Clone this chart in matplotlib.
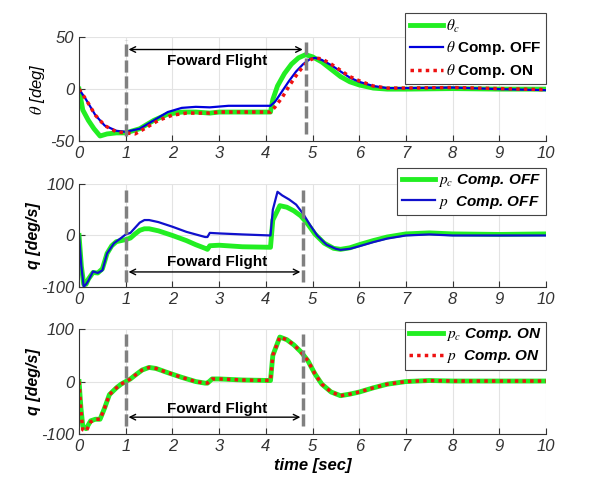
import numpy as np
import matplotlib.pyplot as plt

plt.rcParams['font.family'] = ['Liberation Sans', 'DejaVu Sans']
plt.rcParams['mathtext.fontset'] = 'stix'
plt.rcParams['axes.unicode_minus'] = False

# panel 1: pitch angle [deg]
t1_c = [0, 0.08, 0.2, 0.32, 0.45, 0.6, 0.8, 1.0, 1.3, 1.6, 1.9, 2.2, 2.5, 2.8, 3.0, 4.1, 4.15, 4.25, 4.4, 4.55, 4.7, 4.85, 5.0, 5.2, 5.4, 5.6, 5.8, 6.0, 6.3, 6.6, 7, 8, 9, 10]
th_c = [0, -20, -30, -38, -45, -43, -42, -42, -38, -30, -24, -22, -22, -23, -22, -22, -10, 3, 15, 24, 30, 33, 31, 26, 19, 12, 7, 4, 1, 0, 0, 0.5, 0, 0]
t1_off = [0, 0.15, 0.35, 0.55, 0.8, 1.0, 1.3, 1.6, 1.9, 2.2, 2.5, 2.8, 3.2, 4.1, 4.2, 4.35, 4.5, 4.65, 4.8, 4.95, 5.05, 5.2, 5.4, 5.6, 5.8, 6.0, 6.3, 6.6, 7, 8, 9, 10]
th_off = [0, -10, -25, -35, -40, -41, -38, -30, -22, -18, -17, -17.5, -16, -16, -12, -2, 8, 17, 24, 29, 30, 28, 23, 17, 11, 7, 3, 1, 1, 1.5, 0, -1]
t1_on = [0, 0.15, 0.35, 0.55, 0.8, 1.0, 1.2, 1.4, 1.7, 2.0, 2.3, 2.8, 3.0, 4.1, 4.2, 4.35, 4.5, 4.65, 4.8, 4.95, 5.05, 5.2, 5.4, 5.6, 5.8, 6.0, 6.3, 6.6, 7, 8, 9, 10]
th_on = [0, -10, -25, -35, -41, -42, -43, -38, -30, -25, -23, -23, -22, -22, -17, -8, 3, 13, 22, 28, 30, 29, 24, 18, 12, 8, 3, 1, 1, 1.5, 0.5, -0.5]

# panel 2: pitch rate, compensation off
t2_c = [0, 0.05, 0.1, 0.15, 0.2, 0.3, 0.4, 0.5, 0.6, 0.7, 0.8, 1.0, 1.1, 1.2, 1.3, 1.4, 1.5, 1.7, 2.0, 2.3, 2.5, 2.7, 2.75, 2.8, 3.0, 3.5, 4.1, 4.15, 4.3, 4.45, 4.6, 4.75, 4.9, 5.05, 5.25, 5.45, 5.6, 5.8, 6.0, 6.3, 6.6, 7.0, 7.5, 8, 9, 10]
pc_off = [0, -60, -95, -95, -85, -72, -73, -65, -35, -20, -12, -8, -5, 3, 10, 13, 13, 9, 0, -10, -18, -25, -27, -20, -19, -22, -23, 30, 58, 55, 48, 38, 22, 3, -15, -25, -27, -24, -18, -10, -3, 3, 5, 3, 2, 3]
t2_p = [0, 0.05, 0.1, 0.15, 0.2, 0.3, 0.4, 0.5, 0.6, 0.75, 0.9, 1.0, 1.1, 1.2, 1.3, 1.4, 1.5, 1.7, 2.0, 2.3, 2.5, 2.7, 2.75, 2.8, 3.0, 3.5, 4.1, 4.15, 4.25, 4.35, 4.5, 4.65, 4.8, 4.95, 5.1, 5.3, 5.5, 5.6, 5.8, 6.0, 6.3, 6.6, 7.0, 7.5, 8, 9, 10]
p_off = [0, -60, -100, -95, -88, -70, -73, -68, -35, -15, -5, 2, 5, 15, 25, 30, 30, 26, 17, 7, 2, -3, -3, 5, 4, 2, 0, 50, 85, 78, 70, 60, 42, 20, 0, -18, -26, -28, -26, -21, -13, -6, 0, 2, 0, 0, 0]

# panel 3: pitch rate, compensation on
t3 = [0, 0.04, 0.08, 0.15, 0.25, 0.35, 0.45, 0.55, 0.65, 0.8, 0.9, 1.0, 1.1, 1.2, 1.35, 1.5, 1.65, 1.9, 2.2, 2.5, 2.7, 2.75, 2.85, 3.0, 3.5, 4.1, 4.15, 4.3, 4.45, 4.6, 4.75, 4.9, 5.05, 5.2, 5.4, 5.6, 5.8, 6.0, 6.3, 6.6, 7.0, 7.5, 8, 9, 10]
pc_on = [0, -50, -85, -90, -75, -72, -72, -50, -25, -12, -5, 0, 5, 12, 22, 27, 25, 17, 8, 0, -3, -3, 5, 5, 3, 2, 50, 85, 80, 70, 57, 40, 15, -5, -20, -27, -24, -20, -12, -5, 0, 2, 1, 1, 1]
p_on = [0, -55, -92, -95, -77, -72, -72, -50, -25, -12, -5, 0, 5, 12, 22, 27, 25, 17, 8, 0, -3, -3, 5, 5, 3, 2, 50, 85, 80, 70, 57, 40, 15, -5, -20, -27, -24, -20, -12, -5, 0, 2, 1, 1, 1]

green = '#22ee22'
blue = '#0000dd'
red = '#ee1111'
dash = (0, (3.5, 1.1))

fig = plt.figure(figsize=(6.08, 4.87), dpi=100)
ax1 = fig.add_axes([0.13, 0.710, 0.768, 0.214])
ax2 = fig.add_axes([0.13, 0.411, 0.768, 0.211])
ax3 = fig.add_axes([0.13, 0.109, 0.768, 0.215])

ax1.plot(t1_c, th_c, color=green, lw=3.5, label=r'$\theta_c$')
ax1.plot(t1_off, th_off, color=blue, lw=1.6, label=r'$\theta$ Comp. OFF')
ax1.plot(t1_on, th_on, color=red, lw=2.5, ls=(0, (1, 1.2)), label=r'$\theta$ Comp. ON')

ax2.plot(t2_c, pc_off, color=green, lw=3.5, label=r'$p_c$ Comp. OFF')
ax2.plot(t2_p, p_off, color='#1010cc', lw=1.6, label=r'$p$  Comp. OFF')

ax3.plot(t3, pc_on, color=green, lw=3.5, label=r'$p_c$ Comp. ON')
ax3.plot(t3, p_on, color=red, lw=2.5, ls=(0, (1, 1.2)), label=r'$p$  Comp. ON')

# forward flight markers
ax1.plot([1, 1], [-45, 47], color='gray', lw=2.5, ls=dash)
ax1.plot([4.85, 4.85], [-43, 47], color='gray', lw=2.5, ls=dash)
ax1.annotate('', xy=(1.0, 38), xytext=(4.85, 38), arrowprops=dict(arrowstyle='<->', color='black', lw=1))
ax1.text(2.95, 27, 'Foward Flight', ha='center', va='center', fontsize=11, fontweight='bold')

ax2.plot([1, 1], [-90, 94], color='gray', lw=2.5, ls=dash)
ax2.plot([4.8, 4.8], [-90, 94], color='gray', lw=2.5, ls=dash)
ax2.annotate('', xy=(1.0, -71), xytext=(4.8, -71), arrowprops=dict(arrowstyle='<->', color='black', lw=1))
ax2.text(2.95, -52, 'Foward Flight', ha='center', va='center', fontsize=11, fontweight='bold')

ax3.plot([1, 1], [-85, 94], color='gray', lw=2.5, ls=dash)
ax3.plot([4.8, 4.8], [-85, 94], color='gray', lw=2.5, ls=dash)
ax3.annotate('', xy=(1.0, -68), xytext=(4.8, -68), arrowprops=dict(arrowstyle='<->', color='black', lw=1))
ax3.text(2.95, -52, 'Foward Flight', ha='center', va='center', fontsize=11, fontweight='bold')

for ax, ylim, yt in [(ax1, (-50, 50), [-50, 0, 50]), (ax2, (-100, 100), [-100, 0, 100]), (ax3, (-100, 100), [-100, 0, 100])]:
    ax.set_xlim(0, 10)
    ax.set_ylim(*ylim)
    ax.set_xticks(range(11))
    ax.set_yticks(yt)
    ax.grid(color='#e3e3e3', lw=0.8)
    ax.set_axisbelow(True)
    ax.spines['top'].set_visible(False)
    ax.spines['right'].set_visible(False)
    ax.spines['left'].set_color('#333333')
    ax.spines['bottom'].set_color('#333333')
    ax.tick_params(direction='in', length=4, color='#333333', labelsize=12, labelcolor='#333333')
    for lab in ax.get_xticklabels() + ax.get_yticklabels():
        lab.set_fontstyle('italic')

ax1.set_ylabel(r'$\theta$ [deg]', fontsize=12, fontstyle='italic', labelpad=2)
ax2.set_ylabel('q [deg/s]', fontsize=11.5, fontstyle='italic', fontweight='bold', labelpad=0)
ax3.set_ylabel('q [deg/s]', fontsize=11.5, fontstyle='italic', fontweight='bold', labelpad=0)
ax3.set_xlabel('time [sec]', fontsize=12, fontstyle='italic', fontweight='bold', labelpad=3)

legprops = dict(fancybox=False, edgecolor='#444444', framealpha=1, handlelength=2.2,
                handletextpad=0.2, borderpad=0.3, labelspacing=0.3, borderaxespad=0)
l1 = ax1.legend(loc='upper right', bbox_to_anchor=(1.0, 1.23), prop=dict(size=11, weight='bold'), **legprops)
l2 = ax2.legend(loc='upper right', bbox_to_anchor=(1.0, 1.16), prop=dict(size=11, weight='bold', style='italic'), **legprops)
l3 = ax3.legend(loc='upper right', bbox_to_anchor=(1.0, 1.07), prop=dict(size=11, weight='bold', style='italic'), **legprops)
for l in (l1, l2, l3):
    l.get_frame().set_linewidth(0.8)

fig.savefig('out.png', dpi=100)
